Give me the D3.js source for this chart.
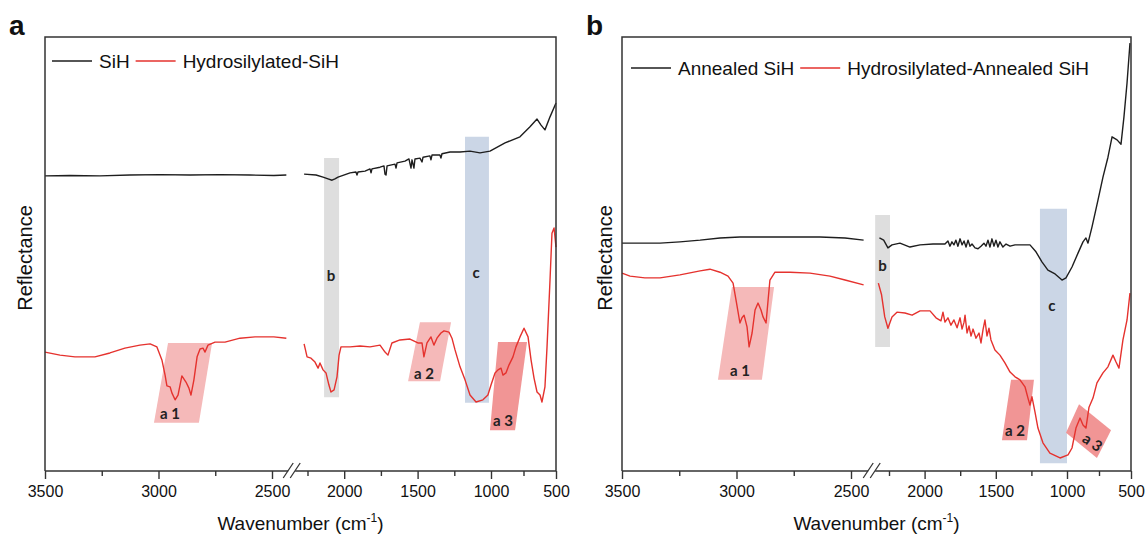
<!DOCTYPE html>
<html>
<head>
<meta charset="utf-8">
<script src="https://cdn.jsdelivr.net/npm/d3@7"></script>
<style>
body { margin: 0; background: #fff; }
svg { display: block; font-family: 'Liberation Sans', Arial, sans-serif; }
</style>
</head>
<body>
<svg width="1148" height="534"></svg>
<script>

// wavenumber axis (cm-1), broken between 2400 and 2280
const wavenumberTicks = [3500, 3000, 2500, 2000, 1500, 1000, 500]
const minorTicks = [3250, 2750, 2250, 1750, 1250, 750]
const axisBreaks = [3500, 2500, 2250, 1000, 500]

const namesA = ['SiH', 'Hydrosilylated-SiH']
const namesB = ['Annealed SiH', 'Hydrosilylated-Annealed SiH']

// reflectance, arbitrary units: [wavenumber, value]
const siH = [
    [3500, 68.0], [3390, 68.1], [3258, 68.0], [3126, 68.2], [2993, 68.3], [2861, 68.2],
    [2729, 68.3], [2597, 68.2], [2487, 68.1], [2399, 68.2],
    [2274, 68.4], [2192, 68.2], [2144, 67.7], [2110, 67.3], [2083, 67.0], [2063, 67.3],
    [2042, 67.7], [1960, 68.7], [1920, 68.9], [1913, 68.2], [1906, 68.9], [1858, 69.1],
    [1824, 69.6], [1817, 68.7], [1811, 69.6], [1756, 70.0], [1729, 70.3], [1722, 68.4],
    [1715, 68.2], [1708, 70.3], [1654, 70.7], [1647, 69.8], [1640, 71.0], [1586, 71.4],
    [1559, 71.9], [1545, 69.8], [1538, 71.7], [1525, 69.8], [1518, 71.9], [1484, 72.1],
    [1470, 71.2], [1463, 72.3], [1416, 72.6], [1409, 71.7], [1402, 72.8], [1348, 72.8],
    [1341, 72.1], [1334, 73.1], [1279, 73.5], [1211, 73.5], [1143, 73.7],
    [1075, 73.3], [1007, 73.7], [892, 75.6], [777, 77.0], [700, 79.3], [646, 81.1],
    [615, 79.7], [585, 78.6], [546, 81.6], [500, 84.8]
]

const hydroSiH = [
    [3500, 27.4], [3434, 26.7], [3368, 26.3], [3280, 26.3], [3214, 27.2], [3148, 28.3],
    [3082, 29.0], [3037, 29.3], [3007, 28.6], [2985, 25.6], [2971, 22.1], [2963, 19.6],
    [2949, 19.4], [2941, 18.0], [2927, 16.4], [2914, 17.5], [2897, 21.9], [2879, 20.5],
    [2866, 19.1], [2857, 17.5], [2844, 21.0], [2830, 26.3], [2817, 28.1], [2804, 28.3],
    [2795, 27.4], [2782, 29.0], [2751, 29.7], [2707, 29.7], [2641, 30.6], [2575, 30.9],
    [2487, 30.9], [2399, 30.6],
    [2274, 29.3], [2253, 26.3], [2226, 26.0], [2199, 25.1], [2178, 23.7], [2165, 24.9],
    [2144, 23.3], [2124, 22.6], [2104, 19.8], [2090, 18.2], [2069, 18.7], [2049, 21.7],
    [2035, 26.7], [2022, 28.6], [1960, 28.6], [1892, 28.8], [1824, 28.6], [1756, 29.0],
    [1722, 27.4], [1702, 26.7], [1675, 29.5], [1620, 30.2], [1552, 30.4], [1498, 29.5],
    [1470, 29.5], [1457, 26.3], [1436, 29.5], [1409, 30.9], [1389, 29.0], [1368, 30.6],
    [1341, 31.8], [1320, 32.3], [1286, 32.0], [1266, 30.6], [1245, 27.9], [1211, 24.0],
    [1177, 21.0], [1143, 17.5], [1102, 15.9], [1055, 16.4], [1021, 17.5], [1000, 19.8],
    [969, 22.6], [946, 23.3], [923, 23.7], [908, 22.1], [885, 22.6], [862, 24.4],
    [831, 26.3], [808, 28.6], [777, 30.9], [746, 32.9], [715, 30.9], [692, 25.6],
    [669, 21.4], [646, 18.2], [623, 17.5], [608, 15.9], [585, 19.4], [569, 28.6],
    [546, 44.0], [531, 54.8], [515, 56.0], [500, 51.6]
]

const annealedSiH = [
    [3500, 52.5], [3421, 52.5], [3334, 52.5], [3247, 52.8], [3159, 53.2], [3072, 53.7],
    [2985, 53.9], [2897, 53.9], [2766, 53.9], [2635, 53.9], [2526, 53.7], [2417, 53.2],
    [2313, 53.7], [2285, 53.2], [2257, 51.4], [2229, 52.1], [2173, 52.5], [2103, 51.6],
    [2032, 52.1], [1941, 52.3], [1857, 52.3], [1836, 53.0], [1822, 51.8], [1808, 52.8],
    [1794, 52.1], [1780, 53.2], [1766, 51.8], [1751, 53.5], [1737, 52.1], [1723, 53.0],
    [1709, 51.6], [1695, 53.2], [1681, 51.8], [1667, 52.3], [1646, 51.4], [1625, 51.2],
    [1604, 51.8], [1583, 52.5], [1569, 51.8], [1555, 53.2], [1541, 51.6], [1527, 53.5],
    [1513, 51.8], [1499, 53.2], [1485, 51.6], [1471, 52.8], [1450, 51.6], [1428, 52.3],
    [1400, 51.8], [1365, 52.1],
    [1330, 52.1], [1260, 52.1], [1218, 50.5], [1176, 48.2], [1134, 46.3], [1084, 45.4],
    [1035, 44.0], [1007, 44.5], [961, 47.0], [914, 50.2], [875, 52.8], [852, 53.7],
    [836, 52.5], [805, 56.2], [758, 62.4], [719, 67.7], [680, 72.3], [648, 77.0],
    [609, 76.3], [578, 75.3], [555, 81.6], [531, 89.4], [508, 98.6]
]

const hydroAnnealedSiH = [
    [3500, 45.6], [3465, 44.9], [3400, 44.5], [3334, 44.5], [3247, 45.2], [3159, 46.1],
    [3116, 46.5], [3072, 45.8], [3037, 44.9], [3015, 43.3], [3002, 39.4], [2985, 34.1],
    [2976, 35.3], [2967, 35.9], [2954, 33.2], [2945, 28.6], [2932, 31.8], [2919, 37.1],
    [2906, 38.7], [2893, 37.1], [2884, 35.5], [2871, 34.1], [2862, 39.4], [2854, 44.0],
    [2832, 45.8], [2766, 45.8], [2679, 45.6], [2592, 44.9], [2526, 44.0], [2417, 42.9],
    [2320, 43.3], [2299, 40.6], [2278, 35.5], [2257, 32.9], [2229, 35.5], [2194, 36.6],
    [2138, 36.4], [2088, 35.9], [2032, 36.9], [1962, 36.9], [1920, 35.3], [1885, 34.6],
    [1871, 36.6], [1857, 34.3], [1836, 35.3], [1815, 33.6], [1794, 34.8], [1772, 33.0],
    [1751, 35.3], [1737, 32.7], [1723, 34.3], [1716, 35.9], [1702, 31.8], [1688, 33.4],
    [1674, 31.1], [1660, 32.7], [1639, 30.6], [1618, 31.8], [1604, 29.5], [1590, 32.5],
    [1576, 34.8], [1562, 31.1], [1548, 32.9], [1534, 30.2],
    [1506, 27.9], [1471, 26.7], [1436, 24.9], [1400, 22.8], [1365, 21.7], [1330, 21.0],
    [1295, 19.4], [1274, 16.8], [1260, 15.2], [1246, 17.1], [1225, 13.6], [1204, 9.9],
    [1169, 6.5], [1120, 4.1], [1049, 3.0], [992, 3.7], [961, 5.3], [930, 9.9],
    [898, 12.2], [875, 10.6], [852, 9.9], [828, 14.7], [797, 16.8], [766, 20.3],
    [719, 22.6], [680, 24.0], [641, 26.7], [617, 25.1], [594, 23.7], [563, 30.2],
    [531, 34.8], [508, 41.0]
]

// assigned absorption regions: corners in [wavenumber, value], label anchor
const bandsA = [
    { name: 'b', kind: 'gray', corners: [[2137, 72.1], [2035, 72.1], [2035, 17.0], [2137, 17.0]], at: [2090, 45.2] },
    { name: 'c', kind: 'blue', corners: [[1177, 77.0], [1014, 77.0], [1014, 15.7], [1177, 15.7]], at: [1102, 45.8] },
    { name: 'a 1', kind: 'pink', corners: [[2958, 29.5], [2764, 29.5], [2822, 11.1], [3020, 11.1]], at: [2949, 13.4] },
    { name: 'a 2', kind: 'pink', corners: [[1484, 34.3], [1272, 34.3], [1347, 20.7], [1565, 20.7]], at: [1457, 22.6] },
    { name: 'a 3', kind: 'rose', corners: [[946, 29.7], [723, 29.7], [815, 9.4], [1007, 9.4]], at: [908, 11.8] }
]

const bandsB = [
    { name: 'b', kind: 'gray', corners: [[2341, 59.0], [2243, 59.0], [2243, 28.6], [2341, 28.6]], at: [2292, 47.5] },
    { name: 'c', kind: 'blue', corners: [[1190, 60.4], [1000, 60.4], [1000, 1.8], [1190, 1.8]], at: [1106, 38.2] },
    { name: 'a 1', kind: 'pink', corners: [[3020, 42.4], [2836, 42.4], [2889, 21.0], [3081, 21.0]], at: [2985, 23.3] },
    { name: 'a 2', kind: 'rose', corners: [[1393, 21.0], [1232, 21.0], [1281, 7.1], [1457, 7.1]], at: [1365, 9.4] },
    { name: 'a 3', kind: 'rose', corners: [[1007, 8.8], [906, 15.4], [656, 9.4], [766, 3.0]], at: [797, 6.7], angle: 35 }
]

const bandColor = { gray: '#dedede', blue: '#cbd6e6', pink: '#f5b9b9', rose: '#f19595' }
const lineColors = ['#1e1e1e', '#e5322e']

const svg = d3.select('svg')

const y = d3.scaleLinear()
    .domain([0, 100])
    .range([471, 37])

const panels = [
    { letter: 'a', range: [45, 272, 307.5, 491, 556], series: [siH, hydroSiH], names: namesA,
      bands: bandsA, legendX: 52, legendY: 61, yLabelX: 25 },
    { letter: 'b', range: [622, 851, 889, 1067, 1131], series: [annealedSiH, hydroAnnealedSiH], names: namesB,
      bands: bandsB, legendX: 631, legendY: 68, yLabelX: 605 }
]

panels.forEach(p => {
    const x = d3.scaleLinear()
        .domain(axisBreaks)
        .range(p.range)

    const left = p.range[0]
    const right = p.range[p.range.length - 1]
    const g = svg.append('g')

    // bands
    p.bands.forEach(b => {
        g.append('polygon')
            .attr('points', b.corners.map(c => [x(c[0]), y(c[1])].join(',')).join(' '))
            .attr('fill', bandColor[b.kind])
    })

    // curves, split at the axis break
    const line = d3.line()
        .x(d => x(d[0]))
        .y(d => y(d[1]))

    p.series.forEach((s, i) => {
        const parts = [s.filter(d => d[0] > 2350), s.filter(d => d[0] < 2350)]
        parts.forEach(part => {
            g.append('path')
                .attr('d', line(part))
                .attr('fill', 'none')
                .attr('stroke', lineColors[i])
                .attr('stroke-width', 1.4)
                .attr('stroke-linejoin', 'round')
        })
    })

    // band labels
    p.bands.forEach(b => {
        const bx = x(b.at[0])
        const by = y(b.at[1])
        g.append('text')
            .attr('x', bx)
            .attr('y', by)
            .attr('text-anchor', 'middle')
            .attr('dominant-baseline', 'central')
            .attr('transform', b.angle ? `rotate(${b.angle},${bx},${by})` : null)
            .style('font-family', 'Lato, sans-serif')
            .style('font-weight', 'bold')
            .style('font-size', '15px')
            .attr('fill', '#222')
            .text(b.name)
    })

    // frame: top, left, right
    g.append('path')
        .attr('d', `M${left},471 V37 H${right} V471`)
        .attr('fill', 'none')
        .attr('stroke', '#333')
        .attr('stroke-width', 1.5)

    // x axis with break
    const xb = x(2400)
    g.append('line')
        .attr('x1', left).attr('x2', xb + 2)
        .attr('y1', 471).attr('y2', 471)
        .attr('stroke', '#333').attr('stroke-width', 1.5)
    g.append('line')
        .attr('x1', xb + 9).attr('x2', right)
        .attr('y1', 471).attr('y2', 471)
        .attr('stroke', '#333').attr('stroke-width', 1.5)
    ;[xb + 2, xb + 9].forEach(cx => {
        g.append('line')
            .attr('x1', cx - 5).attr('y1', 478)
            .attr('x2', cx + 5).attr('y2', 463)
            .attr('stroke', '#333').attr('stroke-width', 1.3)
    })

    const axisG = g.append('g')
        .attr('transform', 'translate(0,471)')
        .call(d3.axisBottom(x).tickValues(wavenumberTicks).tickSize(8).tickPadding(7).tickFormat(d3.format('d')))
    axisG.select('.domain').remove()
    axisG.selectAll('line').attr('stroke', '#333').attr('stroke-width', 1.4)
    axisG.selectAll('text')
        .style('font-family', "'Liberation Sans', Arial, sans-serif")
        .style('font-size', '16px')
        .attr('fill', '#111')

    const minorG = g.append('g')
        .attr('transform', 'translate(0,471)')
        .call(d3.axisBottom(x).tickValues(minorTicks).tickSize(5).tickFormat(''))
    minorG.select('.domain').remove()
    minorG.selectAll('line').attr('stroke', '#333').attr('stroke-width', 1.4)

    // axis titles
    const xTitle = g.append('text')
        .attr('x', (left + right) / 2)
        .attr('y', 530)
        .attr('text-anchor', 'middle')
        .style('font-size', '19px')
        .attr('fill', '#111')
    xTitle.append('tspan').text('Wavenumber (cm')
    xTitle.append('tspan').attr('dy', -8).style('font-size', '12px').text('-1')
    xTitle.append('tspan').attr('dy', 8).text(')')

    g.append('text')
        .attr('transform', `translate(${p.yLabelX},258) rotate(-90)`)
        .attr('text-anchor', 'middle')
        .attr('dominant-baseline', 'central')
        .style('font-size', '20px')
        .attr('fill', '#111')
        .text('Reflectance')

    // panel letter
    svg.append('text')
        .attr('x', left - 36)
        .attr('y', 35)
        .style('font-size', '28px')
        .style('font-weight', 'bold')
        .attr('fill', '#111')
        .text(p.letter)

    // legend
    let lx = p.legendX
    p.names.forEach((name, i) => {
        g.append('line')
            .attr('x1', lx).attr('x2', lx + 40)
            .attr('y1', p.legendY).attr('y2', p.legendY)
            .attr('stroke', lineColors[i])
            .attr('stroke-width', 1.6)
        const t = g.append('text')
            .attr('x', lx + 47)
            .attr('y', p.legendY)
            .attr('dominant-baseline', 'central')
            .style('font-size', '19px')
            .attr('fill', '#111')
            .text(name)
        lx += 47 + t.node().getComputedTextLength() + 6
    })
})

</script>
</body>
</html>
